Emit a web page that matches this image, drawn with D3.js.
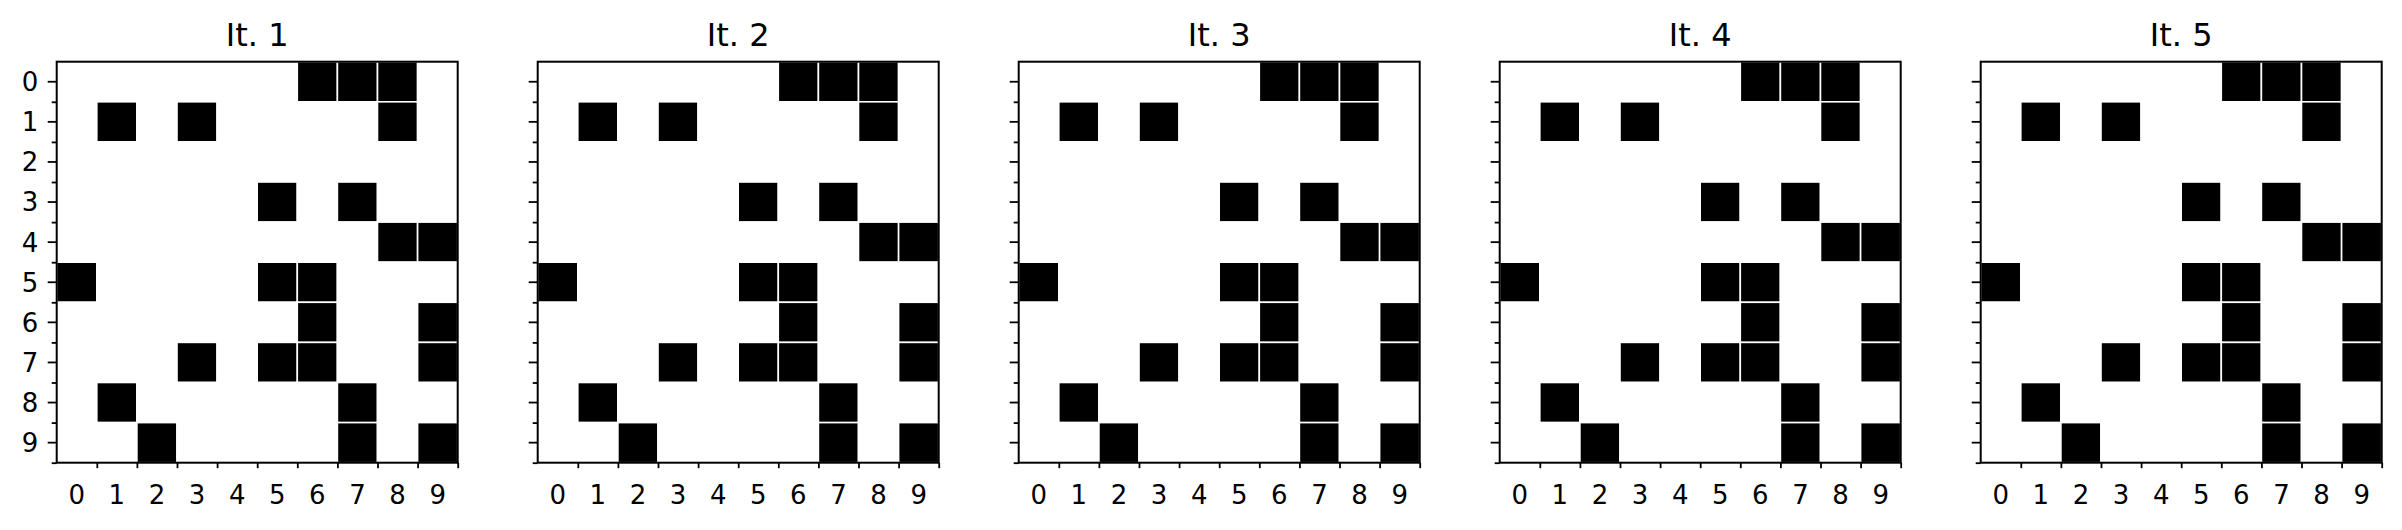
<!DOCTYPE html>
<html>
<head>
<meta charset="utf-8">
<script src="https://cdn.jsdelivr.net/npm/d3@7"></script>
<style>
  html, body { margin: 0; padding: 0; background: #ffffff; }
  svg { display: block; }
  text { font-family: "DejaVu Sans", sans-serif; fill: #000; }
</style>
</head>
<body>
<svg id="chart" width="2402" height="530"></svg>
<script>
// ---------- data ----------
const titles = ["It. 1", "It. 2", "It. 3", "It. 4", "It. 5"];
const rowLabels = ["0", "1", "2", "3", "4", "5", "6", "7", "8", "9"];
const colLabels = ["0", "1", "2", "3", "4", "5", "6", "7", "8", "9"];

const grid1 = [
  [0,0,0,0,0,0,1,1,1,0],
  [0,1,0,1,0,0,0,0,1,0],
  [0,0,0,0,0,0,0,0,0,0],
  [0,0,0,0,0,1,0,1,0,0],
  [0,0,0,0,0,0,0,0,1,1],
  [1,0,0,0,0,1,1,0,0,0],
  [0,0,0,0,0,0,1,0,0,1],
  [0,0,0,1,0,1,1,0,0,1],
  [0,1,0,0,0,0,0,1,0,0],
  [0,0,1,0,0,0,0,1,0,1]
];
const grid2 = [
  [0,0,0,0,0,0,1,1,1,0],
  [0,1,0,1,0,0,0,0,1,0],
  [0,0,0,0,0,0,0,0,0,0],
  [0,0,0,0,0,1,0,1,0,0],
  [0,0,0,0,0,0,0,0,1,1],
  [1,0,0,0,0,1,1,0,0,0],
  [0,0,0,0,0,0,1,0,0,1],
  [0,0,0,1,0,1,1,0,0,1],
  [0,1,0,0,0,0,0,1,0,0],
  [0,0,1,0,0,0,0,1,0,1]
];
const grid3 = [
  [0,0,0,0,0,0,1,1,1,0],
  [0,1,0,1,0,0,0,0,1,0],
  [0,0,0,0,0,0,0,0,0,0],
  [0,0,0,0,0,1,0,1,0,0],
  [0,0,0,0,0,0,0,0,1,1],
  [1,0,0,0,0,1,1,0,0,0],
  [0,0,0,0,0,0,1,0,0,1],
  [0,0,0,1,0,1,1,0,0,1],
  [0,1,0,0,0,0,0,1,0,0],
  [0,0,1,0,0,0,0,1,0,1]
];
const grid4 = [
  [0,0,0,0,0,0,1,1,1,0],
  [0,1,0,1,0,0,0,0,1,0],
  [0,0,0,0,0,0,0,0,0,0],
  [0,0,0,0,0,1,0,1,0,0],
  [0,0,0,0,0,0,0,0,1,1],
  [1,0,0,0,0,1,1,0,0,0],
  [0,0,0,0,0,0,1,0,0,1],
  [0,0,0,1,0,1,1,0,0,1],
  [0,1,0,0,0,0,0,1,0,0],
  [0,0,1,0,0,0,0,1,0,1]
];
const grid5 = [
  [0,0,0,0,0,0,1,1,1,0],
  [0,1,0,1,0,0,0,0,1,0],
  [0,0,0,0,0,0,0,0,0,0],
  [0,0,0,0,0,1,0,1,0,0],
  [0,0,0,0,0,0,0,0,1,1],
  [1,0,0,0,0,1,1,0,0,0],
  [0,0,0,0,0,0,1,0,0,1],
  [0,0,0,1,0,1,1,0,0,1],
  [0,1,0,0,0,0,0,1,0,0],
  [0,0,1,0,0,0,0,1,0,1]
];
const grids = [grid1, grid2, grid3, grid4, grid5];

// ---------- layout ----------
const panelLeft0 = 56.7, panelStep = 481, panelTop = 61.7, size = 401;
const tickFont = 26, titleFont = 32;

const svg = d3.select("#chart");

const x = d3.scaleBand().domain(colLabels).range([0, size]).padding(0);
const y = d3.scaleBand().domain(rowLabels).range([0, size]).padding(0);
const xMinor = d3.scaleLinear().domain([-0.5, 9.5]).range([0, size]);
const yMinor = d3.scaleLinear().domain([-0.5, 9.5]).range([0, size]);
const minorVals = d3.range(0.5, 10, 1);
const color = d3.scaleOrdinal().domain([0, 1]).range(["#ffffff", "#000000"]);

grids.forEach((grid, gi) => {
  const g = svg.append("g")
    .attr("transform", `translate(${panelLeft0 + gi * panelStep},${panelTop})`);

  // cells
  const cells = [];
  grid.forEach((row, r) => row.forEach((v, c) => cells.push({ r, c, v })));
  g.append("g").selectAll("rect")
    .data(cells)
    .join("rect")
    .attr("x", d => x(colLabels[d.c]))
    .attr("y", d => y(rowLabels[d.r]))
    .attr("width", x.bandwidth())
    .attr("height", y.bandwidth())
    .attr("fill", d => color(d.v))
    .attr("stroke", "#ffffff")
    .attr("stroke-width", 1.6);

  // y major axis (ticks at row centers)
  const yAx = g.append("g")
    .call(d3.axisLeft(y).tickSize(9).tickSizeOuter(0).tickPadding(9.5)
      .tickFormat(gi === 0 ? (d => d) : () => ""));
  // y minor ticks at boundaries
  const yMin = g.append("g")
    .call(d3.axisLeft(yMinor).tickValues(minorVals).tickSize(5).tickSizeOuter(0).tickFormat(""));

  // x labels at centers (no visible major ticks)
  const xAx = g.append("g").attr("transform", `translate(0,${size})`)
    .call(d3.axisBottom(x).tickSize(0).tickSizeOuter(0).tickPadding(22.8));
  // x minor ticks at boundaries
  const xMin = g.append("g").attr("transform", `translate(0,${size})`)
    .call(d3.axisBottom(xMinor).tickValues(minorVals).tickSize(5.5).tickSizeOuter(0).tickFormat(""));

  [yAx, yMin, xAx, xMin].forEach(a => {
    a.select(".domain").remove();
    a.selectAll("line").attr("stroke", "#000").attr("stroke-width", 1.8);
    a.selectAll("text")
      .style("font-family", "'DejaVu Sans', sans-serif")
      .style("font-size", tickFont + "px")
      .attr("fill", "#000");
  });
  yAx.selectAll("text").attr("dy", "0.36em");

  // frame (spines)
  g.append("rect")
    .attr("x", 0).attr("y", 0)
    .attr("width", size).attr("height", size)
    .attr("fill", "none")
    .attr("stroke", "#000")
    .attr("stroke-width", 2);

  // title
  g.append("text")
    .attr("x", size / 2)
    .attr("y", 45.5 - panelTop)
    .attr("text-anchor", "middle")
    .style("font-size", titleFont + "px")
    .text(titles[gi]);
});
</script>
</body>
</html>
